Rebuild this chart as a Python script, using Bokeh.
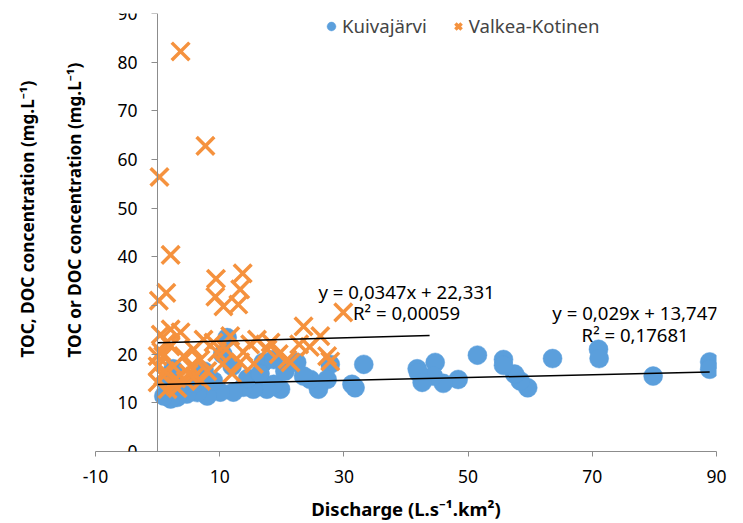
import math
from bokeh.plotting import figure
from bokeh.models import Range1d, FixedTicker, Label, Legend, LegendItem, Title
from bokeh.embed import file_html
from bokeh.resources import INLINE

# ---------------- data ----------------
kuiva_x = [88.9, 88.9, 79.8, 71.0, 71.1, 63.6, 59.6, 58.4, 57.5, 55.7, 55.7, 51.5,
           48.4, 46.0, 44.7, 44.4, 41.8, 42.0, 42.6,
           33.2, 31.3, 31.8, 27.8, 27.3, 25.9, 24.6, 22.4, 19.8, 18.7, 17.6, 17.0,
           18.7, 15.4, 13.8, 12.2, 11.2, 10.1, 8.0, 6.4, 4.7, 3.1, 2.1, 1.0,
           14.5, 16.5, 12.0, 9.0, 6.0, 3.5, 1.5, 20.5, 23.5, 10.5, 7.5, 2.5]
kuiva_y = [18.4, 16.9, 15.5, 21.0, 19.1, 19.1, 13.1, 14.5, 15.9, 18.9, 17.7, 19.8,
           14.8, 14.0, 18.3, 15.5, 17.0, 16.2, 14.2,
           17.9, 13.8, 13.1, 17.9, 14.8, 12.8, 14.8, 18.3, 12.8, 13.8, 12.8, 18.3,
           18.9, 12.8, 13.2, 12.2, 23.4, 12.2, 11.4, 12.1, 11.8, 11.1, 10.8, 11.4,
           15.0, 16.0, 17.5, 14.5, 14.0, 13.5, 14.0, 16.5, 15.5, 20.0, 16.5, 17.0]

valkea_x = [3.7, 7.7, 0.3, 2.1, 9.4, 13.7, 0.2, 1.4, 9.3, 13.3, 10.6, 13.0, 29.9,
            23.5, 26.2, 27.3, 27.8, 20.9, 21.4, 17.7, 18.2, 14.9, 13.8, 13.3, 11.7,
            9.0, 9.6, 7.4, 6.9, 5.8, 5.3, 3.7, 4.2, 2.1, 2.1, 2.6, 0.9, 0.9, 1.6,
            0.0, 0.0, 0.0, 16.0, 19.5, 24.5, 12.0, 8.0, 10.5, 4.5, 3.0, 6.0, 1.5,
            0.5, 15.5, 22.8, 11.0, 3.2, 1.2, 2.8, 0.6, 5.0, 7.0]
valkea_y = [82.2, 62.8, 56.4, 40.4, 35.5, 36.6, 31.0, 32.6, 31.8, 33.3, 29.8, 30.2, 28.6,
            25.7, 23.7, 19.6, 18.5, 18.9, 18.3, 21.0, 22.4, 22.0, 20.4, 18.3, 23.7,
            22.4, 20.4, 23.0, 18.9, 21.0, 17.5, 24.5, 19.6, 25.1, 21.6, 17.5, 19.6, 15.5, 12.8,
            19.6, 17.5, 14.2, 23.0, 20.0, 21.5, 16.0, 16.5, 18.0, 14.5, 15.0, 15.5, 22.5,
            24.0, 18.0, 22.0, 21.0, 13.0, 16.5, 13.5, 20.5, 16.0, 14.5]

# linear trend lines (blue, orange)
trend_slope = [0.029, 0.0347]
trend_intercept = [13.747, 22.331]
trend_x_start = [0.0, 0.0]
trend_x_end = [88.9, 43.8]
trend_eq = ["y = 0,029x + 13,747", "y = 0,0347x + 22,331"]
trend_r2 = ["R² = 0,17681", "R² = 0,00059"]

series_names = ["Kuivajärvi", "Valkea-Kotinen"]
x_ticks = [-10, 10, 30, 50, 70, 90]
x_tick_labels = ["-10", "10", "30", "50", "70", "90"]
y_ticks = [0, 10, 20, 30, 40, 50, 60, 70, 80, 90]

x_title = "Discharge (L.s⁻¹.km²)"
y_title_outer = "TOC, DOC concentration (mg.L⁻¹)"
y_title_inner = "TOC or DOC concentration (mg.L⁻¹)"

# ---------------- style / layout ----------------
FONT = "Noto Sans"
BLUE = "#5B9FDC"
ORANGE = "#F5923E"
AXIS = "#8C8C8C"
eq_pos = [(76.9, 28.5, 24.1), (40.1, 32.9, 28.5)]

p = figure(width=743, height=523, x_range=Range1d(-10, 90), y_range=Range1d(0, 90),
           output_backend="svg", toolbar_location=None,
           min_border_left=95, min_border_right=27, min_border_top=13, min_border_bottom=70)
p.outline_line_color = None
p.grid.visible = False
p.background_fill_color = "white"

# axes
p.xaxis.ticker = FixedTicker(ticks=x_ticks)
p.xaxis.major_label_overrides = {t: s for t, s in zip(x_ticks, x_tick_labels)}
p.yaxis.ticker = FixedTicker(ticks=y_ticks)
p.yaxis.fixed_location = 0
for ax in (p.xaxis, p.yaxis):
    ax.axis_line_color = AXIS
    ax.axis_line_width = 1
    ax.major_tick_line_color = AXIS
    ax.major_tick_in = 0
    ax.minor_tick_line_color = None
    ax.major_label_text_font = FONT
    ax.major_label_text_font_size = "17.5px"
    ax.major_label_text_color = "black"
p.xaxis.major_tick_out = 5
p.xaxis.major_label_standoff = 13
p.yaxis.major_tick_out = 6
p.yaxis.major_label_standoff = 14

p.xaxis.axis_label = x_title
p.xaxis.axis_label_text_font = FONT
p.xaxis.axis_label_text_font_style = "bold"
p.xaxis.axis_label_text_font_size = "18.5px"
p.xaxis.axis_label_text_color = "black"
p.xaxis.axis_label_standoff = 10

# series
r_blue = p.scatter(kuiva_x, kuiva_y, marker="circle", size=19, fill_color=BLUE,
                   line_color=BLUE, line_width=0.5)
r_orange = p.scatter(valkea_x, valkea_y, marker="x", size=25, line_color=ORANGE,
                     line_width=3.5)

# trend lines & equations
for i in range(2):
    xs = [trend_x_start[i], trend_x_end[i]]
    ys = [trend_slope[i] * v + trend_intercept[i] for v in xs]
    p.line(xs, ys, line_color="black", line_width=1.5)
    ex, ey1, ey2 = eq_pos[i]
    for txt, yy in ((trend_eq[i], ey1), (trend_r2[i], ey2)):
        p.add_layout(Label(x=ex, y=yy, text=txt, text_align="center", text_baseline="middle",
                           text_font=FONT, text_font_size="18.6px", text_color="black"))

# y titles as side titles
t_inner = Title(text=y_title_inner, align="left", offset=94, standoff=20,
                text_font=FONT, text_font_style="bold", text_font_size="17.2px",
                text_color="black")
t_outer = Title(text=y_title_outer, align="left", offset=94, standoff=24,
                text_font=FONT, text_font_style="bold", text_font_size="17.2px",
                text_color="black")
p.add_layout(t_inner, "left")
p.add_layout(t_outer, "left")

legend = Legend(items=[LegendItem(label=series_names[0], renderers=[r_blue]),
                       LegendItem(label=series_names[1], renderers=[r_orange])],
                orientation="horizontal", location=(225, 413), padding=0, margin=0,
                spacing=20, label_standoff=0, glyph_width=22, glyph_height=22,
                border_line_color=None, background_fill_alpha=0,
                label_text_font=FONT, label_text_font_size="18.6px")
p.add_layout(legend)

open("out.html", "w").write(file_html(p, INLINE))
